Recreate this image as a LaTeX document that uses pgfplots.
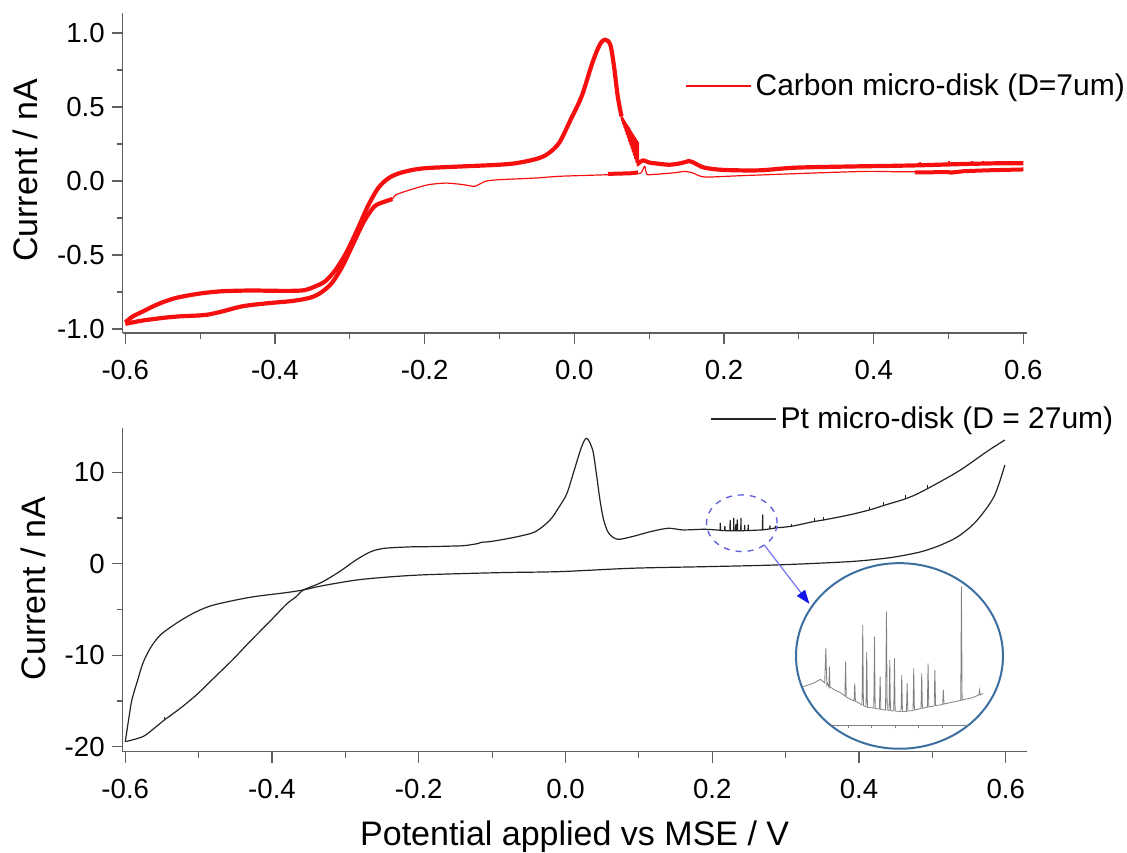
\documentclass[border=0pt]{standalone}
\usepackage{fontspec}
\setmainfont{Liberation Sans}
\usepackage{pgfplots}
\pgfplotsset{compat=1.18}
\usetikzlibrary{arrows.meta}
\definecolor{cvred}{RGB}{245,15,15}
\definecolor{axgray}{RGB}{95,95,95}
\definecolor{ptline}{RGB}{35,35,35}
\definecolor{insetblue}{RGB}{60,110,160}
\definecolor{dashblue}{RGB}{100,100,225}
\definecolor{arrowblue}{RGB}{20,20,235}

\pgfplotsset{
  cvaxis/.style={
    scale only axis, anchor=south west, width=452pt,
    axis x line*=bottom, axis y line*=left,
    axis line style={axgray, line width=0.6pt},
    tick style={axgray, line width=0.6pt},
    tick align=outside,
    major tick length=5.5pt, minor tick length=3pt,
    minor tick num=1,
    tick label style={font=\fontsize{13.8}{16}\selectfont, black},
    xticklabel shift=4.5pt,
    /pgf/number format/assume math mode=true,
    label style={font=\fontsize{17}{20}\selectfont},
    clip=false, unbounded coords=jump,
    every axis plot/.append style={line join=round},
    legend style={draw=none, fill=none, inner sep=0pt,
      font=\fontsize{15}{18}\selectfont},
    legend image code/.code={\draw[#1] (0pt,0pt) -- (32.5pt,0pt);},
  },
}

\begin{document}
\begin{tikzpicture}
\path[use as bounding box] (0,0) rectangle (563.5pt,-426pt);

% carbon micro-disk
\begin{axis}[cvaxis, at={(61.35pt,-166.5pt)}, height=160pt,
  xmin=-0.6035, xmax=0.6045, ymin=-1.027, ymax=1.135,
  xtick={-0.6,-0.4,-0.2,0,0.2,0.4,0.6},
  ytick={-1,-0.5,0,0.5,1},
  xticklabel style={/pgf/number format/.cd, fixed, fixed zerofill, precision=1},
  yticklabel style={/pgf/number format/.cd, fixed, fixed zerofill, precision=1},
  ylabel={Current / nA},
  ylabel style={at={(axis description cs:-0.108,0.509)}, anchor=center},
  legend style={at={(axis description cs:0.622,0.772)}, anchor=west},
]
% forward sweep, thick
\addplot[cvred, line width=2.1pt, smooth, tension=0.5, forget plot] coordinates {
  (-0.600,-0.955) (-0.590,-0.915) (-0.576,-0.880) (-0.560,-0.840) (-0.545,-0.810)
  (-0.529,-0.786) (-0.500,-0.760) (-0.471,-0.745) (-0.433,-0.740) (-0.400,-0.742)
  (-0.375,-0.742) (-0.360,-0.737) (-0.348,-0.716) (-0.333,-0.678) (-0.319,-0.600)
  (-0.305,-0.486) (-0.290,-0.329) (-0.276,-0.171) (-0.262,-0.047) (-0.248,0.020)
  (-0.233,0.054) (-0.214,0.077) (-0.195,0.088) (-0.148,0.099) (-0.100,0.110)
  (-0.076,0.122) (-0.050,0.150) (-0.035,0.185) (-0.020,0.260) (-0.005,0.414)
  (0.010,0.575) (0.024,0.797) (0.034,0.921) (0.041,0.955) (0.048,0.921)
  (0.053,0.775) (0.058,0.572) (0.063,0.437)
};
% oscillation on the falling edge
\addplot[cvred, line width=1.1pt, forget plot] coordinates {
  (0.0630,0.437) (0.0638,0.408) (0.0646,0.424) (0.0654,0.385) (0.0662,0.411)
  (0.0670,0.362) (0.0678,0.398) (0.0686,0.339) (0.0694,0.385) (0.0702,0.315)
  (0.0710,0.373) (0.0718,0.292) (0.0726,0.360) (0.0734,0.269) (0.0742,0.347)
  (0.0750,0.245) (0.0758,0.334) (0.0766,0.222) (0.0774,0.321) (0.0782,0.199)
  (0.0790,0.308) (0.0798,0.176) (0.0806,0.295) (0.0814,0.152) (0.0822,0.282)
  (0.0830,0.129) (0.0838,0.270) (0.0846,0.106) (0.0850,0.260) (0.0852,0.100)
};
\addplot[cvred, line width=2.1pt, smooth, tension=0.5, forget plot] coordinates {
  (0.0852,0.115) (0.088,0.130) (0.092,0.140) (0.100,0.125) (0.107,0.120)
  (0.126,0.110) (0.140,0.118) (0.148,0.128) (0.153,0.135) (0.158,0.128)
  (0.162,0.117) (0.174,0.090) (0.199,0.075) (0.247,0.072) (0.295,0.090)
  (0.368,0.098) (0.420,0.102) (0.460,0.106) (0.500,0.112) (0.530,0.116)
  (0.570,0.120) (0.600,0.120)
};
% noise on the forward sweep
\addplot[cvred, line width=1pt, forget plot] coordinates {
  (0.462,0.106) (0.462,0.128) (0.462,nan) (0.478,0.108) (0.478,0.124) (0.478,nan)
  (0.501,0.112) (0.501,0.134) (0.501,nan) (0.512,0.113) (0.512,0.127) (0.512,nan)
  (0.531,0.116) (0.531,0.138) (0.531,nan) (0.546,0.118) (0.546,0.136) (0.546,nan)
  (0.558,0.119) (0.558,0.131) (0.558,nan) (0.572,0.120) (0.572,0.134) (0.572,nan)
  (0.588,0.120) (0.588,0.132)
};
% reverse sweep
\addplot[cvred, line width=2.1pt, smooth, tension=0.5, forget plot] coordinates {
  (-0.600,-0.965) (-0.590,-0.955) (-0.576,-0.942) (-0.550,-0.925) (-0.529,-0.915)
  (-0.500,-0.908) (-0.490,-0.903) (-0.471,-0.882) (-0.443,-0.846) (-0.410,-0.826)
  (-0.376,-0.810) (-0.352,-0.787) (-0.338,-0.752) (-0.324,-0.689) (-0.310,-0.577)
  (-0.295,-0.419) (-0.281,-0.273) (-0.267,-0.171) (-0.252,-0.137) (-0.243,-0.122)
};
\addplot[cvred, line width=0.6pt, smooth, tension=0.4, forget plot] coordinates {
  (-0.243,-0.122) (-0.238,-0.092) (-0.219,-0.059) (-0.195,-0.025) (-0.171,-0.014)
  (-0.148,-0.025) (-0.133,-0.036) (-0.119,-0.002) (-0.100,0.009) (-0.052,0.020)
  (-0.019,0.032) (0.048,0.043) (0.085,0.050) (0.090,0.060) (0.094,0.100)
  (0.097,0.045) (0.107,0.045) (0.126,0.052) (0.140,0.060) (0.148,0.065)
  (0.158,0.055) (0.174,0.027) (0.223,0.036) (0.320,0.054) (0.392,0.065)
  (0.455,0.062) (0.600,0.075)
};
\addplot[cvred, line width=2pt, forget plot] coordinates {
  (0.045,0.048) (0.060,0.050) (0.075,0.052) (0.085,0.058)
};
\addplot[cvred, line width=2pt, forget plot] coordinates {
  (0.455,0.058) (0.500,0.060) (0.503,0.056) (0.520,0.066) (0.550,0.072) (0.600,0.078)
};
\addlegendimage{cvred, line width=0.6pt}
\addlegendentry{Carbon micro-disk (D=7um)}
\end{axis}

% Pt micro-disk
\begin{axis}[cvaxis, at={(61.35pt,-375.85pt)}, height=161.85pt,
  xmin=-0.6035, xmax=0.6286, ymin=-20.55, ymax=14.84,
  xtick={-0.6,-0.4,-0.2,0,0.2,0.4,0.6},
  ytick={-20,-10,0,10},
  xticklabel style={/pgf/number format/.cd, fixed, fixed zerofill, precision=1},
  ylabel={Current / nA},
  ylabel style={at={(axis description cs:-0.0987,0.504)}, anchor=center},
  xlabel={Potential applied vs MSE / V},
  xlabel style={at={(axis description cs:0.5,-0.261)}, anchor=center},
  legend style={at={(axis description cs:0.6497,1.028)}, anchor=west},
]
% forward sweep
\addplot[ptline, line width=0.6pt, smooth, tension=0.5] coordinates {
  (-0.600,-19.45) (-0.576,-18.90) (-0.560,-17.95) (-0.547,-17.10) (-0.525,-15.80)
  (-0.503,-14.34) (-0.480,-12.55) (-0.454,-10.52) (-0.430,-8.50) (-0.401,-6.14)
  (-0.380,-4.40) (-0.367,-3.60) (-0.357,-2.86) (-0.333,-2.06) (-0.308,-0.86)
  (-0.284,0.49) (-0.265,1.33) (-0.250,1.65) (-0.235,1.76) (-0.210,1.85)
  (-0.187,1.87) (-0.160,1.92) (-0.138,1.98) (-0.120,2.20) (-0.114,2.35)
  (-0.105,2.40) (-0.089,2.60) (-0.065,2.97) (-0.041,3.51) (-0.021,4.79)
  (-0.008,6.30) (0.002,7.70) (0.012,10.25) (0.022,12.80) (0.029,13.72)
  (0.037,12.44) (0.042,9.89) (0.047,6.97) (0.052,4.79) (0.059,3.33)
  (0.071,2.68) (0.091,2.97) (0.116,3.51) (0.140,3.88) (0.160,3.70)
  (0.190,3.77) (0.2108,3.66)
};
\addlegendentry{Pt micro-disk (D = 27um)}
\addplot[ptline, line width=0.6pt, forget plot] coordinates {
  (0.2108,3.66) (0.2110,4.43) (0.2113,3.64) (0.2170,3.62) (0.2172,4.10)
  (0.2175,3.62) (0.2242,3.60) (0.2244,4.72) (0.2247,3.60) (0.2291,3.60)
  (0.2293,4.97) (0.2296,3.60) (0.2320,3.60) (0.2322,4.30) (0.2325,3.60)
  (0.2340,3.60) (0.2342,4.79) (0.2345,3.60) (0.2389,3.61) (0.2391,4.97)
  (0.2394,3.61) (0.2440,3.62) (0.2442,4.20) (0.2445,3.62) (0.2488,3.63)
  (0.2490,4.24) (0.2493,3.63) (0.2685,3.70) (0.2687,5.34) (0.2690,3.71)
  (0.2784,3.80) (0.2786,4.15) (0.2789,3.81) (0.2858,3.90) (0.2860,4.10)
  (0.2863,3.92)
};
\addplot[ptline, line width=0.6pt, smooth, tension=0.5, forget plot] coordinates {
  (0.2863,3.92) (0.308,4.10) (0.3376,4.60) (0.3520,4.79) (0.3868,5.34)
  (0.4140,5.88) (0.4360,6.43) (0.4633,7.10) (0.4855,7.88) (0.5347,10.07)
  (0.5742,12.26) (0.5988,13.53)
};
\addplot[ptline, line width=0.5pt, forget plot] coordinates {
  (0.3080,4.10) (0.3080,4.30) (0.3080,nan) (0.3400,4.62) (0.3400,4.97) (0.3400,nan)
  (0.3523,4.80) (0.3523,5.15) (0.3523,nan) (0.4142,5.89) (0.4142,6.24) (0.4142,nan)
  (0.4339,6.37) (0.4339,6.79) (0.4339,nan) (0.4635,7.11) (0.4635,7.52) (0.4635,nan)
  (0.4930,8.22) (0.4930,8.56) (0.4930,nan) (-0.547,-17.12) (-0.547,-16.70)
};
% reverse sweep
\addplot[ptline, line width=0.6pt, smooth, tension=0.5, forget plot] coordinates {
  (0.5988,10.80) (0.584,7.34) (0.5593,4.60) (0.5347,2.96) (0.510,2.00)
  (0.4855,1.33) (0.460,0.90) (0.436,0.60) (0.3868,0.23) (0.288,-0.13)
  (0.190,-0.32) (0.091,-0.49) (-0.008,-0.86) (-0.089,-0.97) (-0.187,-1.19)
  (-0.235,-1.41) (-0.284,-1.77) (-0.333,-2.43) (-0.357,-2.86) (-0.381,-3.16)
  (-0.430,-3.67) (-0.479,-4.50) (-0.503,-5.24) (-0.527,-6.33) (-0.552,-7.78)
  (-0.566,-9.24) (-0.576,-10.88) (-0.583,-12.70) (-0.591,-14.89) (-0.5955,-17.08)
  (-0.600,-19.45)
};
\draw[dashblue, line width=0.7pt, dashed] (axis cs:0.2403,4.43)
  ellipse [x radius=17.65pt, y radius=14.15pt];
\draw[insetblue, line width=1pt] (axis cs:0.4552,-10.08)
  ellipse [x radius=51.75pt, y radius=46.4pt];
\draw[arrowblue!60, line width=0.6pt, -{Triangle[length=7pt,width=5pt,color=arrowblue]}]
  (axis cs:0.2709,2.06) -- (axis cs:0.3325,-4.39);
\end{axis}

% magnified inset
\begin{axis}[scale only axis, anchor=south west, at={(415.5pt,-362.5pt)},
  width=68.85pt, height=82.5pt,
  xmin=0.2227, xmax=0.2813, ymin=3.5, ymax=5.15,
  axis x line*=bottom, axis y line=none,
  axis line style={gray, line width=0.5pt},
  tick style={gray, line width=0.4pt}, tick align=outside,
  major tick length=1.5pt,
  xtick={0.23,0.24,0.25,0.26,0.27}, xticklabels={},
  clip=false,
]
\addplot[gray, line width=0.4pt] coordinates {
  (0.2108,3.883) (0.2151,3.917) (0.2182,3.957) (0.2200,3.920) (0.2205,4.267)
  (0.2209,3.900) (0.2212,3.917) (0.2218,3.880) (0.2220,4.083) (0.2223,3.880)
  (0.2243,3.850) (0.2270,3.820) (0.2286,3.790) (0.2289,4.133) (0.2292,3.780)
  (0.2325,3.740) (0.2328,3.917) (0.2331,3.735) (0.2336,3.733) (0.2359,3.700)
  (0.2362,4.500) (0.2365,3.695) (0.2376,3.680) (0.2379,4.233) (0.2382,3.677)
  (0.2409,3.670) (0.2412,4.383) (0.2415,3.665) (0.2433,3.660) (0.2436,3.983)
  (0.2439,3.655) (0.2459,3.650) (0.2463,4.633) (0.2466,3.650) (0.2474,3.645)
  (0.2477,4.150) (0.2480,3.645) (0.2494,3.640) (0.2497,4.167) (0.2500,3.640)
  (0.2525,3.635) (0.2528,4.000) (0.2531,3.635) (0.2536,3.633) (0.2548,3.635)
  (0.2551,3.917) (0.2554,3.640) (0.2576,3.645) (0.2579,4.067) (0.2582,3.650)
  (0.2610,3.665) (0.2613,4.017) (0.2616,3.667) (0.2637,3.680) (0.2640,4.117)
  (0.2643,3.682) (0.2666,3.690) (0.2669,4.050) (0.2672,3.695) (0.2689,3.700)
  (0.2702,3.705) (0.2705,3.850) (0.2708,3.710) (0.2766,3.740) (0.2779,3.745)
  (0.2782,4.883) (0.2785,3.750) (0.2828,3.773) (0.2856,3.800) (0.2859,3.850)
  (0.2862,3.800) (0.2874,3.817)
};
\end{axis}
\end{tikzpicture}
\end{document}
